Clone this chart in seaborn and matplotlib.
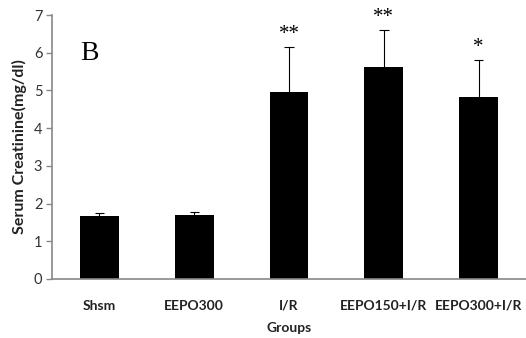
import matplotlib
matplotlib.use("Agg")
import matplotlib.pyplot as plt
import seaborn as sns
import pandas as pd
import numpy as np

groups = ["Shsm", "EEPO300", "I/R", "EEPO150+I/R", "EEPO300+I/R"]
means = [1.67, 1.70, 4.97, 5.63, 4.83]
errors = [0.07, 0.07, 1.19, 0.97, 0.97]
stars = ["", "", "**", "**", "*"]
yticks = [0, 1, 2, 3, 4, 5, 6, 7]

sns.set_theme(style="white")
plt.rcParams["font.family"] = ["Lato", "DejaVu Sans"]

df = pd.DataFrame({"Groups": groups, "value": means})

fig = plt.figure(figsize=(5.26, 3.38), dpi=100)
ax = fig.add_axes([0.099, 0.1746, 0.901, 0.781])

sns.barplot(data=df, x="Groups", y="value", color="black", width=0.41,
            saturation=1, ax=ax, errorbar=None, linewidth=0)
xs = np.arange(len(groups))
tops = np.array(means) + np.array(errors)
ax.vlines(xs, means, tops, color="black", linewidth=0.8)
ax.hlines(tops, xs - 0.05, xs + 0.05, color="black", linewidth=0.8)
for i, (t, s) in enumerate(zip(tops, stars)):
    if s:
        ax.text(i, t + 0.08, s, ha="center", va="bottom",
                fontsize=15, family="Liberation Serif", color="black")

ax.set_ylim(0, 7)
ax.set_xlim(-0.5, len(groups) - 0.5)
ax.set_yticks(yticks)
ax.set_yticklabels([str(t) for t in yticks], fontsize=10.5, color="#333333")
ax.tick_params(axis="y", which="major", direction="out", length=4,
               color="#888888", left=True, width=1, pad=3)
ax.tick_params(axis="x", length=0, pad=15)
for lbl in ax.get_xticklabels():
    lbl.set_fontweight("bold")
    lbl.set_fontsize(10)
    lbl.set_color("#222222")

ax.set_xlabel("Groups", fontsize=10, fontweight="bold", color="#222222", labelpad=7)
ax.set_ylabel("Serum Creatinine(mg/dl)", fontsize=11.5, fontweight="bold",
              color="#222222", labelpad=5)

for sp in ["top", "right"]:
    ax.spines[sp].set_visible(False)
for sp in ["left", "bottom"]:
    ax.spines[sp].set_color("#888888")
    ax.spines[sp].set_linewidth(1.2)

ax.text(0.059, 0.83, "B", transform=ax.transAxes, fontsize=20,
        family="Liberation Serif", color="black", ha="left", va="baseline")

fig.savefig("out.png", dpi=100)
